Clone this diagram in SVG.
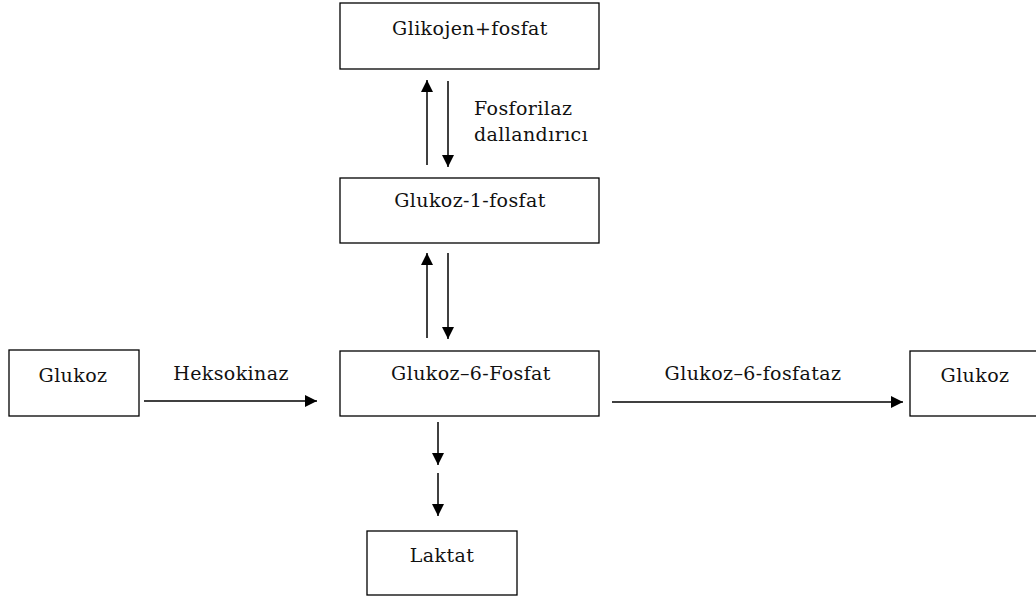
<svg xmlns="http://www.w3.org/2000/svg" width="1036" height="596" viewBox="0 0 1036 596">
<style>
.box{fill:#fff;stroke:#000;stroke-width:1.3}
.t{font-family:"DejaVu Serif","Liberation Serif",serif;font-size:19px;letter-spacing:0.4px;fill:#111}
.c{text-anchor:middle}
.ln{stroke:#000;stroke-width:1.5;fill:none;marker-end:url(#ah)}
</style>
<defs>
<marker id="ah" markerWidth="12" markerHeight="12" refX="12" refY="6" orient="auto" markerUnits="userSpaceOnUse">
<path d="M0,0 L12,6 L0,12 Z" fill="#000"/>
</marker>
</defs>
<rect width="1036" height="596" fill="#fff"/>
<g id="connectors">
<line class="ln" x1="427" y1="165" x2="427" y2="80"/>
<line class="ln" x1="448" y1="81" x2="448" y2="167"/>
<line class="ln" x1="427" y1="338" x2="427" y2="253"/>
<line class="ln" x1="448" y1="253" x2="448" y2="339"/>
<line class="ln" x1="438" y1="422" x2="438" y2="465"/>
<line class="ln" x1="438" y1="473" x2="438" y2="516"/>
<line class="ln" x1="144" y1="401" x2="317" y2="401"/>
<line class="ln" x1="612" y1="402" x2="903" y2="402"/>
<text class="t" x="474" y="115">Fosforilaz</text>
<text class="t" x="474" y="141">dallandırıcı</text>
<text class="t c" x="231" y="380">Heksokinaz</text>
<text class="t c" x="753" y="380">Glukoz–6-fosfataz</text>
</g>
<g id="glikojen">
<rect class="box" x="340" y="3" width="259" height="66"/>
<text class="t c" x="470" y="35">Glikojen+fosfat</text>
</g>
<g id="g1p">
<rect class="box" x="340" y="178" width="259" height="65"/>
<text class="t c" x="470" y="207">Glukoz-1-fosfat</text>
</g>
<g id="g6p">
<rect class="box" x="340" y="351" width="259" height="65"/>
<text class="t c" x="471" y="380">Glukoz–6-Fosfat</text>
</g>
<g id="glukoz-left">
<rect class="box" x="9" y="350" width="130" height="66"/>
<text class="t c" x="73" y="382">Glukoz</text>
</g>
<g id="glukoz-right">
<rect class="box" x="910" y="351" width="135" height="65"/>
<text class="t c" x="975" y="382">Glukoz</text>
</g>
<g id="laktat">
<rect class="box" x="367" y="531" width="150" height="64"/>
<text class="t c" x="442" y="562">Laktat</text>
</g>
</svg>
